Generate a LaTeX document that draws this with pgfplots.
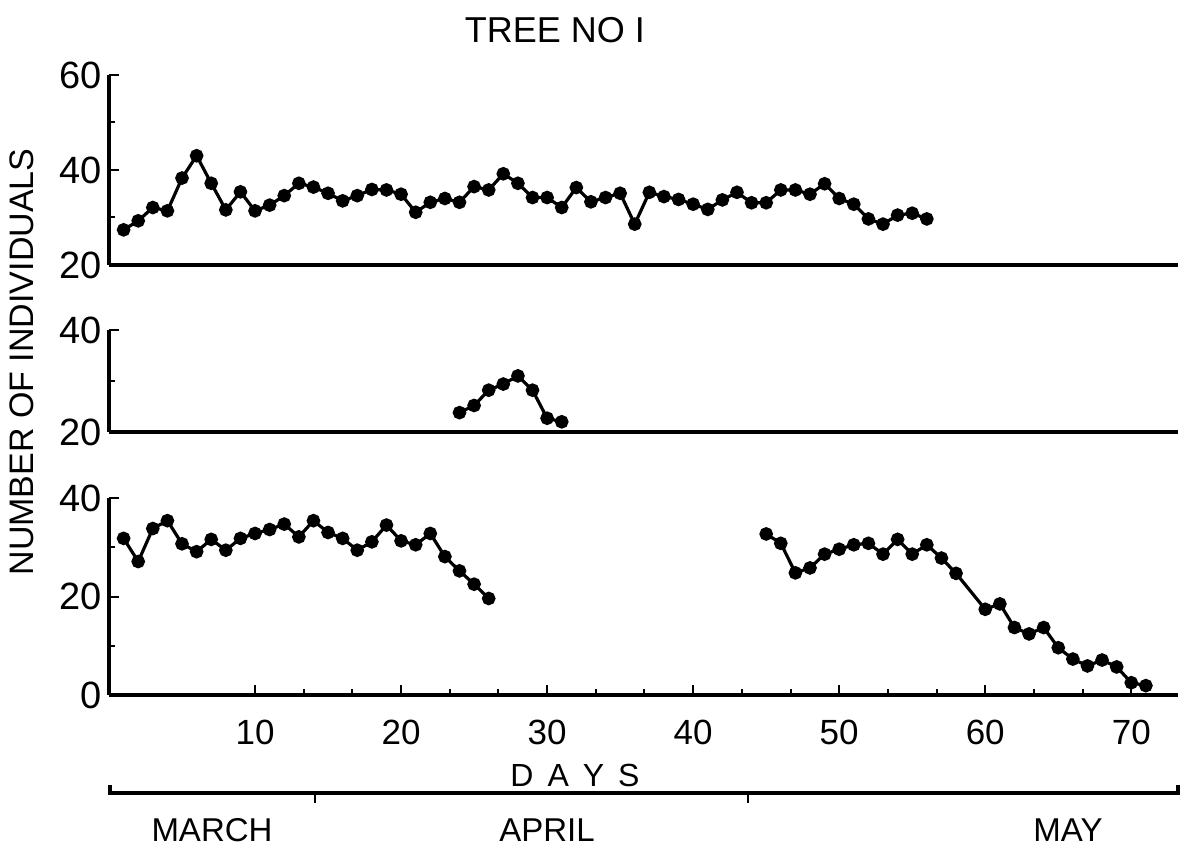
\documentclass[border=0pt]{standalone}
\usepackage{pgfplots}
\pgfplotsset{compat=1.18}
\usepackage{fontspec}
\setmainfont{Liberation Sans}
\begin{document}
\begin{tikzpicture}
\useasboundingbox (-54.5pt,-78pt) rectangle (539pt,347.5pt);
\pgfplotsset{
 panel/.style={scale only axis, width=534.5pt, xmin=0, xmax=73.2,
   anchor=south west,
   axis lines*=left, axis line style={line width=1.6pt},
   tick style={black, line width=1pt}, tick align=inside,
   major tick length=5pt, minor tick length=3pt,
   yticklabel style={font=\fontsize{19}{19}\selectfont},
   xticklabel style={font=\fontsize{17.5}{17.5}\selectfont, yshift=-9pt},
   /pgf/number format/assume math mode=true, clip=false},
 data/.style={black, line width=1.6pt, mark=*, mark size=2.6pt, mark options={solid, fill=black}},
}
% top panel
\begin{axis}[panel, at={(0pt,215pt)}, height=95pt, ymin=20, ymax=60,
  ytick={20,40,60}, minor ytick={30,50}, xtick=\empty]
\addplot[data] coordinates {
(1,27.4)(2,29.3)(3,32.1)(4,31.4)(5,38.3)(6,43.0)(7,37.2)(8,31.6)(9,35.4)(10,31.4)
(11,32.6)(12,34.6)(13,37.2)(14,36.4)(15,35.1)(16,33.5)(17,34.6)(18,35.9)(19,35.8)(20,34.9)
(21,31.1)(22,33.2)(23,34.0)(24,33.2)(25,36.5)(26,35.8)(27,39.2)(28,37.2)(29,34.2)(30,34.2)
(31,32.1)(32,36.3)(33,33.3)(34,34.2)(35,35.1)(36,28.6)(37,35.3)(38,34.4)(39,33.8)(40,32.8)
(41,31.7)(42,33.7)(43,35.3)(44,33.1)(45,33.1)(46,35.8)(47,35.8)(48,34.9)(49,37.1)(50,34.0)
(51,32.8)(52,29.7)(53,28.6)(54,30.5)(55,30.9)(56,29.7)};
\end{axis}
% middle panel
\begin{axis}[panel, at={(0pt,131.5pt)}, height=51pt, ymin=20, ymax=40,
  ytick={20,40}, minor ytick={30}, xtick=\empty]
\addplot[data] coordinates {
(24,23.8)(25,25.2)(26,28.2)(27,29.4)(28,31.0)(29,28.2)(30,22.7)(31,22.0)};
\end{axis}
% bottom panel
\begin{axis}[panel, at={(0pt,0pt)}, height=98.5pt, ymin=0, ymax=40,
  ytick={0,20,40}, minor ytick={10,30},
  xtick={10,20,...,70}, minor x tick num=2]
\addplot[data] coordinates {
(1,31.8)(2,27.1)(3,33.8)(4,35.4)(5,30.7)(6,29.1)(7,31.6)(8,29.4)(9,31.8)(10,32.8)
(11,33.6)(12,34.7)(13,32.1)(14,35.4)(15,33.0)(16,31.8)(17,29.4)(18,31.1)(19,34.5)(20,31.3)
(21,30.5)(22,32.8)(23,28.1)(24,25.2)(25,22.5)(26,19.6)};
\addplot[data] coordinates {
(45,32.7)(46,30.8)(47,24.8)(48,25.8)(49,28.6)(50,29.6)(51,30.5)(52,30.8)(53,28.6)(54,31.6)
(55,28.6)(56,30.5)(57,27.8)(58,24.7)(60,17.4)(61,18.5)(62,13.7)(63,12.4)(64,13.7)(65,9.6)
(66,7.3)(67,5.9)(68,7.1)(69,5.7)(70,2.5)(71,1.9)};
\end{axis}
% texts and timeline
\node[font=\fontsize{18}{18}\selectfont] at (223pt,332.5pt) {TREE NO I};
\node[font=\fontsize{17}{17}\selectfont, rotate=90] at (-43.5pt,166.5pt) {NUMBER OF INDIVIDUALS};
\node[font=\fontsize{16}{16}\selectfont] at (233pt,-40pt) {D\hspace{7pt}A\hspace{7pt}Y\hspace{7pt}S};
\draw[line width=1.6pt] (0.5pt,-45pt) -- (0.5pt,-49pt) -- (534.5pt,-49pt) -- (534.5pt,-45pt);
\draw[line width=1.2pt] (103pt,-49pt) -- (103pt,-54pt);
\draw[line width=1.2pt] (319.5pt,-49pt) -- (319.5pt,-54pt);
\node[font=\fontsize{16.5}{16.5}\selectfont] at (51.5pt,-67.5pt) {MARCH};
\node[font=\fontsize{16.5}{16.5}\selectfont] at (219pt,-67.5pt) {APRIL};
\node[font=\fontsize{16.5}{16.5}\selectfont] at (479.5pt,-67.5pt) {MAY};
\end{tikzpicture}
\end{document}
